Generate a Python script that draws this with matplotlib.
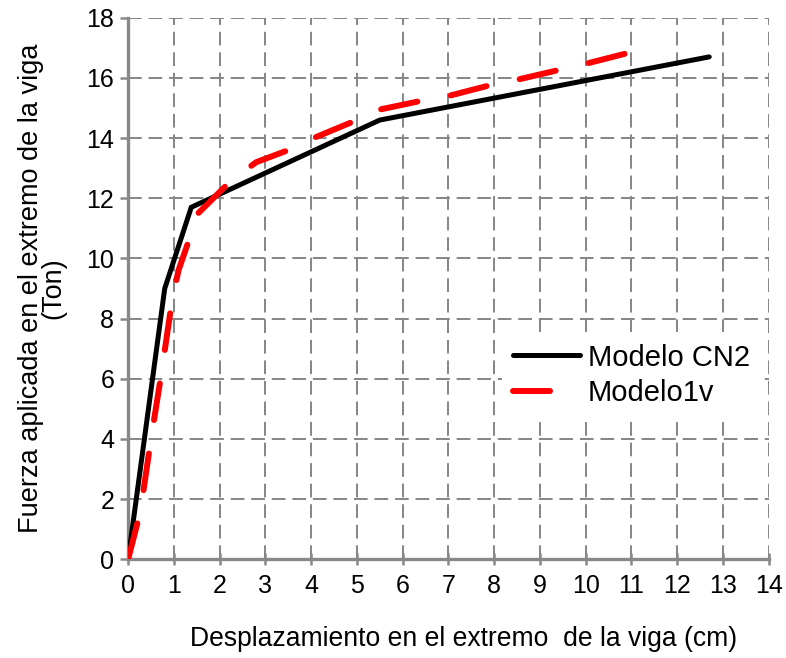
import numpy as np
import matplotlib.pyplot as plt

plt.rcParams['font.family'] = ['Liberation Sans', 'DejaVu Sans']

# Modelo CN2 (black, solid)
cn2_x = [0.0, 0.8, 1.38, 5.5, 12.7]
cn2_y = [0.0, 9.0, 11.7, 14.6, 16.7]

# Modelo1v (red, dashed)
m1v_x = [0.0, 0.27, 0.5, 0.72, 0.95, 1.1, 1.35, 1.53, 2.26, 2.8, 3.5,
         4.05, 5.0, 5.5, 6.44, 7.0, 7.94, 8.5, 9.43, 10.0, 10.85]
m1v_y = [0.0, 1.6, 4.0, 6.1, 8.5, 9.6, 10.7, 11.5, 12.6, 13.2, 13.6,
         14.0, 14.6, 14.95, 15.25, 15.4, 15.77, 15.94, 16.27, 16.47, 16.8]

x_ticks = list(range(0, 15))
y_ticks = list(range(0, 19, 2))

RED_LW = 4.3
RED_DASH = (6.2, 5.2)

fig = plt.figure(figsize=(7.86, 6.58), dpi=100)
ax = fig.add_axes([0.163, 0.150, 0.815, 0.823])

ax.plot(cn2_x, cn2_y, color='black', lw=3.6, solid_joinstyle='miter',
        solid_capstyle='round', label='Modelo CN2', zorder=3)
red, = ax.plot(m1v_x, m1v_y, color='#ff0000', lw=RED_LW, dashes=RED_DASH,
               dash_capstyle='round', label='Modelo1v', zorder=4)

ax.set_xlim(0, 14)
ax.set_ylim(0, 18)
ax.set_xticks(x_ticks)
ax.set_yticks(y_ticks)
ax.grid(True, color='#888888', ls=(0, (6.8, 3.4)), lw=1.45)
ax.set_axisbelow(True)

for s in ['top', 'right']:
    ax.spines[s].set_visible(False)
for s in ['left', 'bottom']:
    ax.spines[s].set_color('#888888')
    ax.spines[s].set_linewidth(2.4)

ax.tick_params(axis='x', direction='inout', length=9, width=1.8,
               color='#888888', labelsize=18, pad=6)
ax.tick_params(axis='y', direction='out', length=6, width=1.8,
               color='#888888', labelsize=18, pad=4)

ax.set_xlabel('Desplazamiento en el extremo  de la viga (cm)', fontsize=19.1)
ax.xaxis.set_label_coords(0.523, -0.124)
ax.set_ylabel('Fuerza aplicada en el extremo de la viga\n(Ton)', fontsize=19.5,
              linespacing=0.78)
ax.yaxis.set_label_coords(-0.097, 0.5)

leg = ax.legend(loc='upper left', bbox_to_anchor=(0.583, 0.42), fontsize=21,
                frameon=True, handlelength=2.3, handletextpad=0.25,
                labelspacing=0.25, borderpad=0.4, borderaxespad=0)
leg.get_frame().set_edgecolor('none')
leg.get_frame().set_facecolor('white')
leg.get_frame().set_alpha(1)
leg.get_frame().set_boxstyle('square', pad=0)

# stretch the gaps a little so the red curve starts and ends on a full dash
pts = ax.transData.transform(np.column_stack([m1v_x, m1v_y]))
length_pt = np.sum(np.hypot(*np.diff(pts, axis=0).T)) * 72 / fig.dpi
on, off = RED_DASH[0] * RED_LW, RED_DASH[1] * RED_LW
n = int(round((length_pt + off) / (on + off)))
gap = (length_pt - n * on) / (n - 1) / RED_LW
red.set_linestyle((0, (RED_DASH[0], gap)))

fig.savefig('out.png', dpi=100)
